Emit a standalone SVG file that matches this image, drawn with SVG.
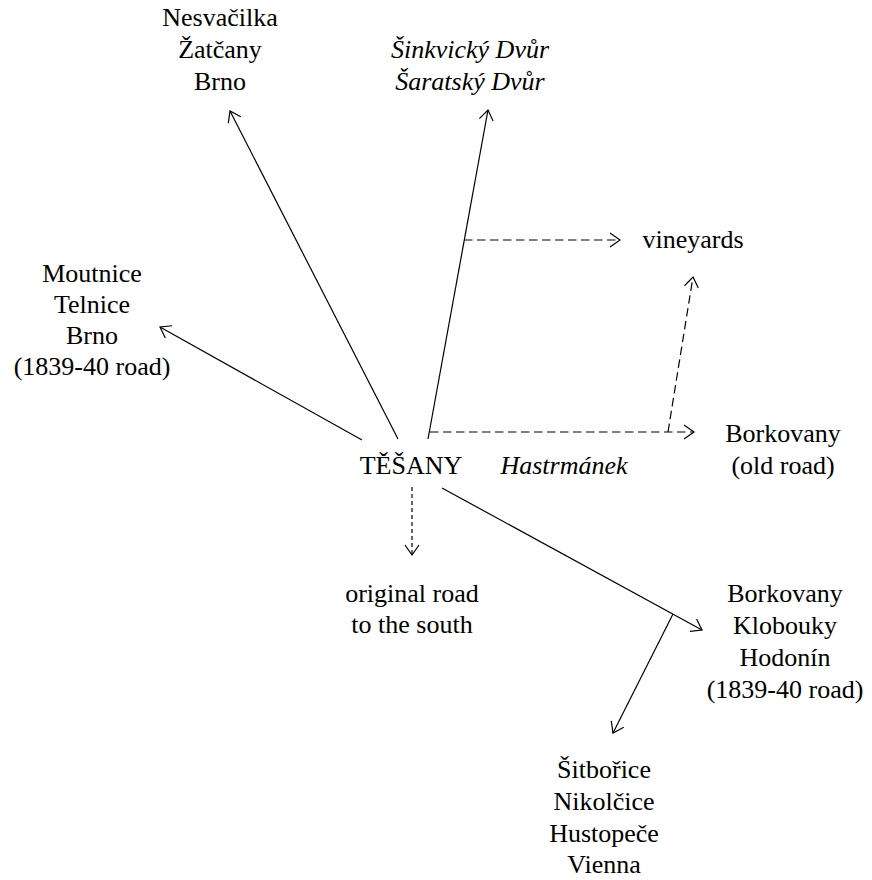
<svg xmlns="http://www.w3.org/2000/svg" width="872" height="880" viewBox="0 0 872 880">
<style>
text{font-size:26px;fill:#000;text-anchor:middle}
.it{font-style:italic}
.c{fill:none;stroke:#000;stroke-width:1.2}
.d{stroke-dasharray:8.5 4.5}
.d2{stroke-dasharray:4 3}
</style>
<defs>
<marker id="a" markerUnits="userSpaceOnUse" markerWidth="20" markerHeight="20" refX="0" refY="0" viewBox="-12 -10 14 20" orient="auto" overflow="visible">
<path d="M-10,-7 L0,0 L-10,7" fill="none" stroke="#000" stroke-width="1.2" stroke-dasharray="none"/>
</marker>
</defs>
<rect width="872" height="880" fill="#fff"/>
<g id="connectors">
<path class="c" d="M398,439 L230,111" marker-end="url(#a)"/>
<path class="c" d="M362,440 L160,327" marker-end="url(#a)"/>
<path class="c" d="M428,439 L488,110" marker-end="url(#a)"/>
<path class="c d" d="M464,240 L620,240" marker-end="url(#a)"/>
<path class="c d" d="M430,432 L694,432" marker-end="url(#a)"/>
<path class="c d" d="M668,432 L693,277" marker-end="url(#a)"/>
<path class="c d2" d="M412,487 L412,555" marker-end="url(#a)"/>
<path class="c" d="M442,488 L702,630" marker-end="url(#a)"/>
<path class="c" d="M673,614 L613,733" marker-end="url(#a)"/>
</g>
<g font-family="'Liberation Serif', 'Times New Roman', 'DejaVu Serif', serif">
<g id="tesany"><text x="411" y="474">TĚŠANY</text></g>
<g id="hastrmanek"><text class="it" x="564" y="474">Hastrmánek</text></g>
<g id="nesvacilka"><text x="220" y="26">Nesvačilka</text><text x="220" y="58">Žatčany</text><text x="220" y="90">Brno</text></g>
<g id="sinkvicky"><text class="it" x="470" y="58">Šinkvický Dvůr</text><text class="it" x="470" y="90">Šaratský Dvůr</text></g>
<g id="moutnice"><text x="92" y="282">Moutnice</text><text x="92" y="313">Telnice</text><text x="92" y="344">Brno</text><text x="92" y="375">(1839-40 road)</text></g>
<g id="vineyards"><text x="693" y="248">vineyards</text></g>
<g id="borkovany-old"><text x="783" y="442">Borkovany</text><text x="783" y="474">(old road)</text></g>
<g id="south"><text x="412" y="602">original road</text><text x="412" y="633">to the south</text></g>
<g id="borkovany-new"><text x="785" y="602">Borkovany</text><text x="785" y="634">Klobouky</text><text x="785" y="666">Hodonín</text><text x="785" y="698">(1839-40 road)</text></g>
<g id="sitborice"><text x="604" y="778">Šitbořice</text><text x="604" y="810">Nikolčice</text><text x="604" y="842">Hustopeče</text><text x="604" y="873">Vienna</text></g>
</g>
</svg>
